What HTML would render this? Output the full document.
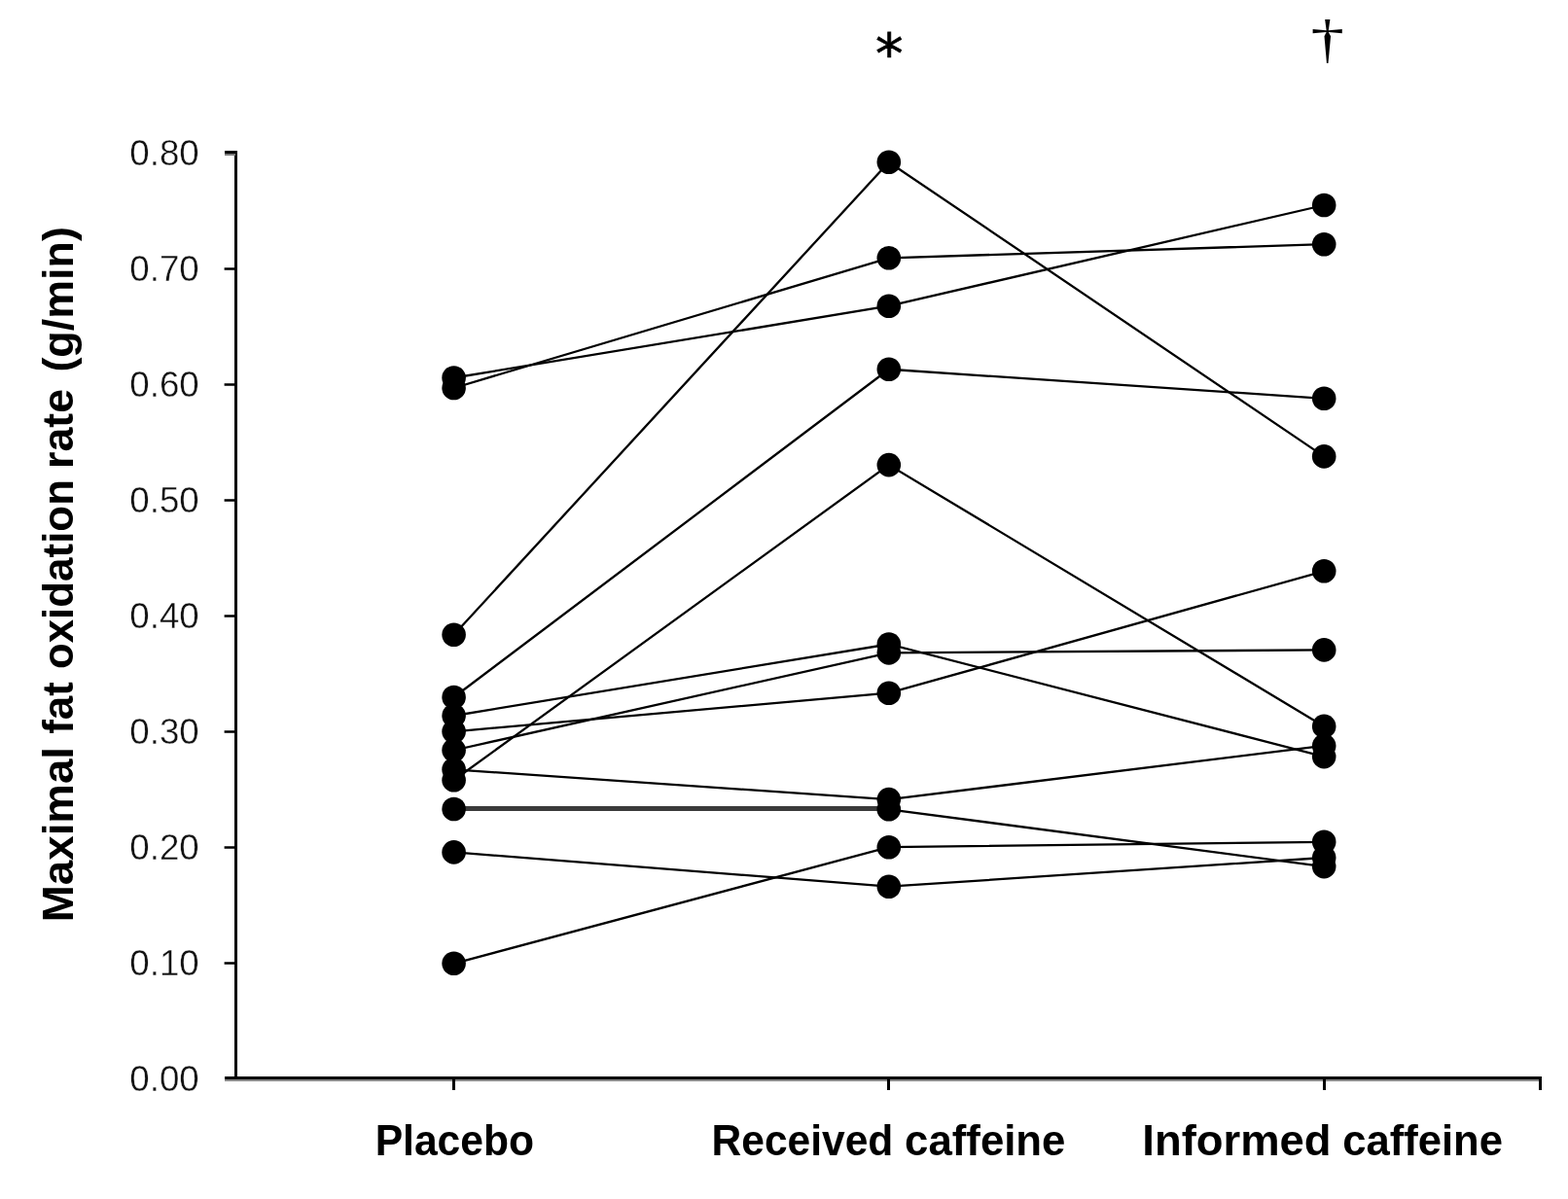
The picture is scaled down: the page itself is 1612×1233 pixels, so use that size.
<!DOCTYPE html>
<html lang="en"><head><meta charset="utf-8"><title>Maximal fat oxidation rate</title>
<style>
html,body{margin:0;padding:0;background:#fff;}
body{width:1612px;height:1233px;overflow:hidden;}
svg{display:block;}
.tk{font-family:"Liberation Sans",sans-serif;font-size:37.6px;fill:#111;stroke:#fff;stroke-width:0.4px;}
.lb{font-family:"Liberation Sans",sans-serif;font-size:44.5px;font-weight:bold;fill:#000;}
.ast{font-family:"DejaVu Sans","Liberation Sans",sans-serif;font-size:57px;fill:#000;stroke:#000;stroke-width:0.7px;}
.dag{font-family:"Liberation Serif",serif;font-size:62px;fill:#000;}
</style></head><body>
<svg width="1612" height="1233" viewBox="0 0 1612 1233">
<rect width="1612" height="1233" fill="#fff"/>
<g fill="#000" shape-rendering="crispEdges">
<rect x="241.3" y="155.3" width="2.9" height="953" />
<rect x="230.6" y="1107" width="1354" height="3" />
<rect x="230.6" y="1110" width="1354" height="2" fill="#8a8a8a"/>
<rect x="230.6" y="989.25" width="11" height="2.5" shape-rendering="geometricPrecision"/>
<rect x="230.6" y="870.25" width="11" height="2.5" shape-rendering="geometricPrecision"/>
<rect x="230.6" y="751.25" width="11" height="2.5" shape-rendering="geometricPrecision"/>
<rect x="230.6" y="632.25" width="11" height="2.5" shape-rendering="geometricPrecision"/>
<rect x="230.6" y="513.25" width="11" height="2.5" shape-rendering="geometricPrecision"/>
<rect x="230.6" y="394.25" width="11" height="2.5" shape-rendering="geometricPrecision"/>
<rect x="230.6" y="275.25" width="11" height="2.5" shape-rendering="geometricPrecision"/>
<rect x="230.6" y="155.1" width="11" height="2.8" />
<rect x="230.6" y="157.9" width="11" height="2.4" fill="#7a7a7a"/>
<rect x="465.1" y="1110" width="3" height="10.8" />
<rect x="912.3" y="1110" width="3" height="10.8" />
<rect x="1359.7" y="1110" width="3" height="10.8" />
<rect x="1581.5" y="1110" width="3" height="10.8" />
</g>
<text class="tk" x="133.35" y="1122.2" textLength="71.42" lengthAdjust="spacingAndGlyphs">0.00</text>
<text class="tk" x="133.35" y="1003.2" textLength="71.42" lengthAdjust="spacingAndGlyphs">0.10</text>
<text class="tk" x="133.35" y="884.2" textLength="71.42" lengthAdjust="spacingAndGlyphs">0.20</text>
<text class="tk" x="133.35" y="765.2" textLength="71.42" lengthAdjust="spacingAndGlyphs">0.30</text>
<text class="tk" x="133.35" y="646.2" textLength="71.42" lengthAdjust="spacingAndGlyphs">0.40</text>
<text class="tk" x="133.35" y="527.2" textLength="71.42" lengthAdjust="spacingAndGlyphs">0.50</text>
<text class="tk" x="133.35" y="408.2" textLength="71.42" lengthAdjust="spacingAndGlyphs">0.60</text>
<text class="tk" x="133.35" y="289.2" textLength="71.42" lengthAdjust="spacingAndGlyphs">0.70</text>
<text class="tk" x="133.35" y="170.2" textLength="71.42" lengthAdjust="spacingAndGlyphs">0.80</text>
<g stroke="#000" stroke-width="2.3" fill="none" stroke-linecap="butt">
<polyline points="466.6,388.5 913.8,314.7 1361.2,211.0"/>
<polyline points="466.6,399.0 913.8,265.3 1361.2,251.2"/>
<polyline points="466.6,652.8 913.8,166.7 1361.2,469.4"/>
<polyline points="466.6,717.0 913.8,379.8 1361.2,409.8"/>
<polyline points="466.6,736.0 913.8,662.5 1361.2,778.1"/>
<polyline points="466.6,752.3 913.8,712.7 1361.2,587.3"/>
<polyline points="466.6,771.5 913.8,671.4 1361.2,668.4"/>
<polyline points="466.6,791.3 913.8,822.1 1361.2,766.9"/>
<polyline points="466.6,802.3 913.8,478.1 1361.2,746.9"/>
<polyline points="466.6,832.0 913.8,832.3 1361.2,891.1"/>
<polyline points="466.6,876.4 913.8,911.7 1361.2,882.0"/>
<polyline points="466.6,990.8 913.8,871.2 1361.2,865.8"/>
</g>
<line x1="466.6" y1="831.6" x2="913.8" y2="831.6" stroke="#3a3a3a" stroke-width="5"/>
<g fill="#000">
<circle cx="466.6" cy="388.5" r="12.3"/>
<circle cx="913.8" cy="314.7" r="12.3"/>
<circle cx="1361.2" cy="211.0" r="12.3"/>
<circle cx="466.6" cy="399.0" r="12.3"/>
<circle cx="913.8" cy="265.3" r="12.3"/>
<circle cx="1361.2" cy="251.2" r="12.3"/>
<circle cx="466.6" cy="652.8" r="12.3"/>
<circle cx="913.8" cy="166.7" r="12.3"/>
<circle cx="1361.2" cy="469.4" r="12.3"/>
<circle cx="466.6" cy="717.0" r="12.3"/>
<circle cx="913.8" cy="379.8" r="12.3"/>
<circle cx="1361.2" cy="409.8" r="12.3"/>
<circle cx="466.6" cy="736.0" r="12.3"/>
<circle cx="913.8" cy="662.5" r="12.3"/>
<circle cx="1361.2" cy="778.1" r="12.3"/>
<circle cx="466.6" cy="752.3" r="12.3"/>
<circle cx="913.8" cy="712.7" r="12.3"/>
<circle cx="1361.2" cy="587.3" r="12.3"/>
<circle cx="466.6" cy="771.5" r="12.3"/>
<circle cx="913.8" cy="671.4" r="12.3"/>
<circle cx="1361.2" cy="668.4" r="12.3"/>
<circle cx="466.6" cy="791.3" r="12.3"/>
<circle cx="913.8" cy="822.1" r="12.3"/>
<circle cx="1361.2" cy="766.9" r="12.3"/>
<circle cx="466.6" cy="802.3" r="12.3"/>
<circle cx="913.8" cy="478.1" r="12.3"/>
<circle cx="1361.2" cy="746.9" r="12.3"/>
<circle cx="466.6" cy="832.0" r="12.3"/>
<circle cx="913.8" cy="832.3" r="12.3"/>
<circle cx="1361.2" cy="891.1" r="12.3"/>
<circle cx="466.6" cy="876.4" r="12.3"/>
<circle cx="913.8" cy="911.7" r="12.3"/>
<circle cx="1361.2" cy="882.0" r="12.3"/>
<circle cx="466.6" cy="990.8" r="12.3"/>
<circle cx="913.8" cy="871.2" r="12.3"/>
<circle cx="1361.2" cy="865.8" r="12.3"/>
</g>
<text class="lb" y="1188.3"><tspan x="385.63" textLength="163.50" lengthAdjust="spacingAndGlyphs">Placebo</tspan></text>
<text class="lb" y="1188.3"><tspan x="731.60" textLength="186.76" lengthAdjust="spacingAndGlyphs">Received</tspan> <tspan x="930.08" textLength="165.36" lengthAdjust="spacingAndGlyphs">caffeine</tspan></text>
<text class="lb" y="1188.3"><tspan x="1174.32" textLength="194.23" lengthAdjust="spacingAndGlyphs">Informed</tspan> <tspan x="1380.16" textLength="164.87" lengthAdjust="spacingAndGlyphs">caffeine</tspan></text>
<text class="lb" transform="translate(75.2 947.5) rotate(-90)" y="0"><tspan x="-0.68" textLength="180.25" lengthAdjust="spacingAndGlyphs">Maximal</tspan> <tspan x="192.66" textLength="53.62" lengthAdjust="spacingAndGlyphs">fat</tspan> <tspan x="259.42" textLength="195.04" lengthAdjust="spacingAndGlyphs">oxidation</tspan> <tspan x="465.56" textLength="81.93" lengthAdjust="spacingAndGlyphs">rate</tspan> <tspan x="564.95" textLength="149.47" lengthAdjust="spacingAndGlyphs">(g/min)</tspan></text>
<text class="ast" x="914.2" y="74.7" text-anchor="middle">*</text>
<text class="dag" transform="translate(1364.8 59.3) scale(1.11 0.87)" x="0" y="0" text-anchor="middle">†</text>
</svg>
</body></html>
